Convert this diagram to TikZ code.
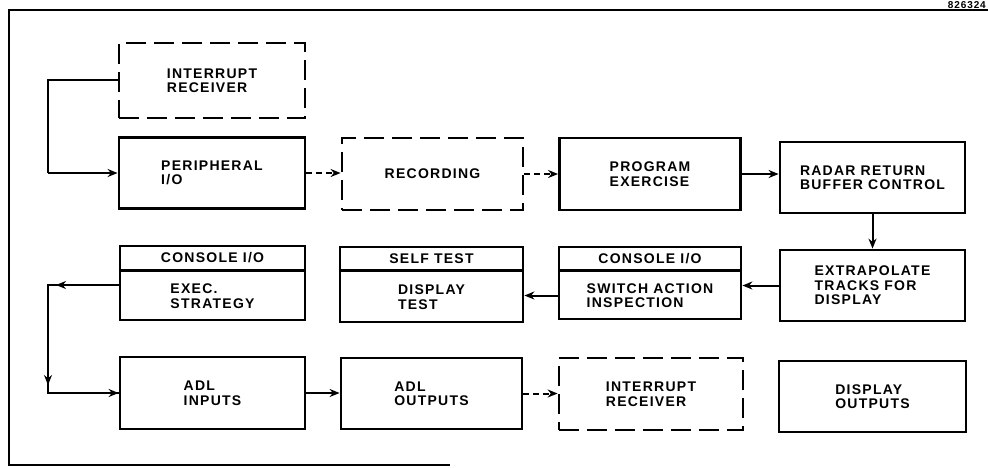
\documentclass[tikz,border=0pt]{standalone}
\usepackage{fontspec}
\setmainfont{Liberation Sans}[LetterSpace=9]
\usetikzlibrary{arrows.meta,calc}
\begin{document}
\begin{tikzpicture}[x=1pt,y=-1pt,
  lbl/.style={font=\fontsize{14}{14.5}\selectfont\bfseries, align=left, inner sep=0pt},
  box/.style={draw, line width=2.8pt, inner sep=0pt, lbl},
  dbox/.style={box, dash pattern=on 20pt off 8pt},
  wire/.style={line width=2pt},
  arr/.style={wire, -{Stealth[length=10pt,width=8pt]}},
  darr/.style={arr, dash pattern=on 6pt off 4pt},
  frame/.style={line width=1.8pt}]
\useasboundingbox (0,0) rectangle (988,467);
% frame
\coordinate (ftl) at (9,10);
\coordinate (ftr) at (988,10);
\coordinate (fbl) at (9,465);
\coordinate (fbr) at (450,465);
\draw[frame] (ftr) -- (ftl) -- (fbl) -- (fbr);
\node[font=\fontsize{10}{10}\selectfont\bfseries, inner sep=0pt, anchor=base east] (fig) at (986,8) {826324};
% row 1
\node[dbox, minimum width=186, minimum height=75] (ir1) at (212,80.5) {INTERRUPT\\RECEIVER};
% row 2
\node[box, minimum width=186, minimum height=71] (per) at (212,173) {PERIPHERAL\\I/O};
\node[dbox, minimum width=181, minimum height=72] (rec) at (432.5,174) {RECORDING};
\node[box, minimum width=181, minimum height=72] (prog) at (650,174) {PROGRAM\\EXERCISE};
\node[box, minimum width=185, minimum height=71] (radar) at (872.5,177.5) {RADAR RETURN\\BUFFER CONTROL};
% row 3
\node[box, minimum width=185, minimum height=71] (extra) at (872.5,285.5) {EXTRAPOLATE\\TRACKS FOR\\DISPLAY};
\node[box, minimum width=182, minimum height=72] (sw) at (650,283) {};
\node[box, minimum width=183, minimum height=75] (dt) at (431.5,284.5) {};
\node[box, minimum width=185, minimum height=74] (ex) at (212.5,283) {};
\draw[box] ($(sw.north west)+(0,25)$) coordinate (swl) -- ($(sw.north east)+(0,25)$) coordinate (swr);
\draw[box] ($(dt.north west)+(0,25)$) coordinate (dtl) -- ($(dt.north east)+(0,25)$) coordinate (dtr);
\draw[box] ($(ex.north west)+(0,26)$) coordinate (exl) -- ($(ex.north east)+(0,26)$) coordinate (exr);
\node[lbl] (swh) at ($(sw.north)+(0,13)$) {CONSOLE I/O};
\node[lbl] (swb) at ($(sw.south)!0.5!(sw.north |- swl)$) {SWITCH ACTION\\INSPECTION};
\node[lbl] (dth) at ($(dt.north)+(0,13)$) {SELF TEST};
\node[lbl] (dtb) at ($(dt.south)!0.5!(dt.north |- dtl)$) {DISPLAY\\TEST};
\node[lbl] (exh) at ($(ex.north)+(0,13)$) {CONSOLE I/O};
\node[lbl] (exb) at ($(ex.south)!0.5!(ex.north |- exl)$) {EXEC.\\STRATEGY};
% row 4
\node[box, minimum width=185, minimum height=72] (adlin) at (212.5,393) {ADL\\INPUTS};
\node[box, minimum width=181, minimum height=71] (adlout) at (431.5,393.5) {ADL\\OUTPUTS};
\node[dbox, minimum width=184, minimum height=72] (ir2) at (651,394) {INTERRUPT\\RECEIVER};
\node[box, minimum width=187, minimum height=71] (dout) at (872.5,396.5) {DISPLAY\\OUTPUTS};
% connectors
\coordinate (ta) at (48,80);
\coordinate (tb) at (48,173);
\draw[wire] (ir1.west |- ta) -- (ta) -- (tb);
\draw[arr] (tb) -- (per.west);
\draw[darr] (per.east) -- (per.east -| rec.west);
\draw[darr] (rec.east) -- (rec.east -| prog.west);
\draw[arr] (prog.east) -- (prog.east -| radar.west);
\draw[arr] (radar.south) -- (extra.north);
\draw[arr] (extra.west) -- (extra.west -| sw.east);
\draw[arr] (sw.west |- swb) -- (swb -| dt.east);
\coordinate (ka) at (48,285);
\coordinate (kb) at (48,393);
\draw[wire] (ex.west |- ka) -- (ka) -- (kb) -- (kb -| adlin.west);
\draw[arr] (ex.west |- ka) -- ($(ka)+(8,0)$);
\draw[arr] (ka) -- ($(kb)+(0,-8)$);
\draw[arr] (kb) -- (adlin.west);
\draw[arr] (adlin.east) -- (adlin.east -| adlout.west);
\draw[darr] (adlout.east) -- (adlout.east -| ir2.west);
\end{tikzpicture}
\end{document}
